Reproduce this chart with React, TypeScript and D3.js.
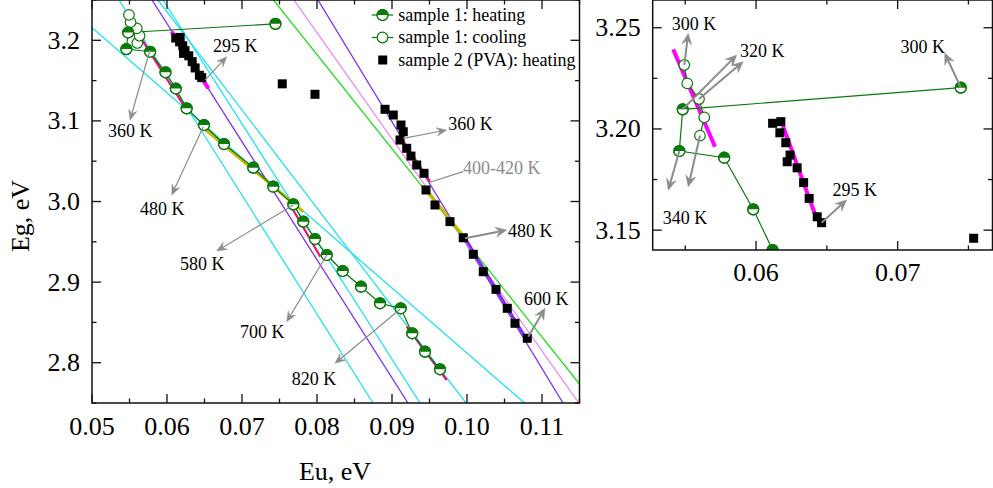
import React from 'react';
import * as d3 from 'd3';

const FONT = "'Liberation Serif','Times New Roman',serif";

// ---- data: sample 1 heating ----
const heatEu = [0.07446, 0.05482, 0.05458, 0.05775, 0.0598, 0.06117, 0.06262, 0.06493, 0.0676, 0.0715, 0.07417, 0.07684, 0.07817, 0.07973, 0.0813, 0.08343, 0.08587, 0.0884, 0.09116, 0.0927, 0.0944, 0.0964];
const heatEg = [3.2204, 3.2097, 3.1891, 3.1858, 3.1603, 3.1402, 3.1156, 3.0949, 3.0713, 3.042, 3.0184, 2.9965, 2.975, 2.9535, 2.9336, 2.9138, 2.8943, 2.8737, 2.8675, 2.8365, 2.8137, 2.7918];
// ---- sample 1 cooling ----
const coolEu = [0.05604, 0.05634, 0.05597, 0.05514, 0.05493];
const coolEg = [3.1967, 3.2057, 3.2148, 3.2225, 3.2316];
// ---- sample 2 (PVA) heating ----
const pvaEu = [0.06463, 0.06432, 0.06375, 0.06336, 0.0629, 0.0622, 0.0624, 0.0621, 0.06168, 0.06175, 0.06117, 0.07537, 0.07973, 0.08907, 0.09017, 0.0912, 0.0915, 0.09107, 0.09196, 0.09253, 0.0933, 0.09427, 0.09453, 0.09573, 0.09773, 0.0995, 0.10084, 0.10217, 0.10387, 0.10537, 0.1064, 0.10804];
const pvaEg = [3.1537, 3.1566, 3.1657, 3.1735, 3.1808, 3.1838, 3.1871, 3.1932, 3.1981, 3.2036, 3.2028, 3.146, 3.133, 3.1144, 3.1073, 3.0949, 3.0866, 3.0763, 3.066, 3.0564, 3.0453, 3.035, 3.0143, 2.9957, 2.975, 2.955, 2.9345, 2.9129, 2.891, 2.8675, 2.8489, 2.8303];

// ---- fit / model lines (Eu, Eg) ----
const cyanA = [[0.0450, 3.2560], [0.1120, 2.7150]];
const cyanB = [[0.0536, 3.25], [0.08747, 2.75]];
const cyanC = [[0.0588, 3.25], [0.09987, 2.75]];
const cyanD = [[0.05947, 3.25], [0.09373, 2.75]];
const violet1 = [[0.0580, 3.25], [0.09213, 2.75]];
const violet2 = [[0.08013, 3.25], [0.1128, 2.75]];
const pinkLine = [[0.07693, 3.25], [0.1149, 2.75]];
const greenLine = [[0.0742, 3.25], [0.115, 2.7736]];
const magentaMain = [[0.06062, 3.2107], [0.06551, 3.1404]];
const crimson1 = [[0.05444, 3.2335], [0.0629, 3.1094]];
const yellow1 = [[0.0644, 3.0949], [0.07817, 2.9873]];
const crimson2 = [[0.07644, 2.9957], [0.08044, 2.9315]];
const crimson3 = [[0.09195, 2.8447], [0.09729, 2.7785]];
const crimsonPva = [[0.09107, 3.0804], [0.09507, 3.0246]];
const yellowPva = [[0.0944, 3.0164], [0.09996, 2.952]];
const violetPva = [[0.09973, 2.9547], [0.1080, 2.828]];
const magentaInsetCool = [[0.05415, 3.2393], [0.0571, 3.1912]];
const magentaInsetPva = [[0.0619, 3.2015], [0.06427, 3.1558]];

// ---- ticks ----
const mainXMajor = [0.05, 0.06, 0.07, 0.08, 0.09, 0.10, 0.11];
const mainXLabels = ['0.05', '0.06', '0.07', '0.08', '0.09', '0.10', '0.11'];
const mainXMinor = [0.055, 0.065, 0.075, 0.085, 0.095, 0.105, 0.115];
const mainYMajor = [2.8, 2.9, 3.0, 3.1, 3.2];
const mainYLabels = ['2.8', '2.9', '3.0', '3.1', '3.2'];
const mainYMinor = [2.75, 2.85, 2.95, 3.05, 3.15, 3.25];
const insXMajor = [0.06, 0.07];
const insXLabels = ['0.06', '0.07'];
const insXMinor = [0.055, 0.065, 0.075];
const insYMajor = [3.15, 3.2, 3.25];
const insYLabels = ['3.15', '3.20', '3.25'];
const insYMinor = [3.175, 3.225];

// ---- annotations: [fromEu, fromEg, toEu, toEg, width] ----
const mainArrows = [
  [0.06507, 3.1507, 0.06796, 3.1797, 1.2],
  [0.05773, 3.188, 0.05507, 3.1011, 1.2],
  [0.06484, 3.0928, 0.06063, 3.0081, 1.2],
  [0.07684, 2.9957, 0.06663, 2.9386, 1.2],
  [0.0813, 2.9336, 0.07596, 2.8509, 1.2],
  [0.09107, 2.8663, 0.0824, 2.7992, 1.2],
  [0.09151, 3.0784, 0.09729, 3.0887, 1.2],
  [0.09973, 2.9543, 0.10529, 2.9646, 2],
  [0.10817, 2.8323, 0.1104, 2.8675, 2],
];
const mainLabels = [
  ['295 K', 0.06613, 3.1855],
  ['360 K', 0.05213, 3.08],
  ['480 K', 0.0564, 2.9833],
  ['580 K', 0.06173, 2.915],
  ['700 K', 0.06973, 2.8307],
  ['820 K', 0.07663, 2.7723],
  ['360 K', 0.0975, 3.0887],
  ['480 K', 0.10547, 2.956],
  ['600 K', 0.1076, 2.8716],
];
const rangeLine = [0.09484, 3.0233, 0.09947, 3.037];
const rangeLabel = ['400-420 K', 0.09947, 3.0341];
const insetArrows = [
  [0.05493, 3.2316, 0.05521, 3.2472, 2],
  [0.05482, 3.2097, 0.05863, 3.2365, 2],
  [0.05597, 3.2148, 0.05909, 3.2332, 2],
  [0.05458, 3.1891, 0.0538, 3.1698, 2],
  [0.05604, 3.1967, 0.05521, 3.1715, 2],
  [0.07446, 3.2204, 0.07333, 3.2374, 2],
  [0.06463, 3.1537, 0.06639, 3.1649, 2],
];
const insetLabels = [
  ['300 K', 0.05404, 3.2489],
  ['320 K', 0.05886, 3.2355],
  ['340 K', 0.05341, 3.153],
  ['300 K', 0.0702, 3.2375],
  ['295 K', 0.0654, 3.1669],
];

const legendItems = ['sample 1: heating', 'sample 1: cooling', 'sample 2 (PVA): heating'];

const GREEN = '#0a7a0a';
const CYAN = '#22e2f2';
const VIOLET = '#8030e8';
const CRIMSON = '#e8146a';
const YELLOW = '#c8b800';
const GRAY = '#8c8c8c';

function arrowPath(x1: number, y1: number, x2: number, y2: number, w: number) {
  const dx = x2 - x1, dy = y2 - y1;
  const len = Math.hypot(dx, dy);
  const ux = dx / len, uy = dy / len;
  const L = w > 1.5 ? 11 : 10, hw = w > 1.5 ? 5 : 4.2;
  const bx = x2 - ux * L, by = y2 - uy * L;
  const nx = x2 - ux * L * 0.65, ny = y2 - uy * L * 0.65;
  const px = -uy, py = ux;
  return {
    shaft: `M${x1},${y1}L${nx},${ny}`,
    head: `M${x2},${y2}L${bx + px * hw},${by + py * hw}L${nx},${ny}L${bx - px * hw},${by - py * hw}Z`,
  };
}

function HalfCircle({ cx, cy, r }: { cx: number; cy: number; r: number }) {
  return (
    <g>
      <circle cx={cx} cy={cy} r={r} fill="#fff" stroke={GREEN} strokeWidth={1.2} />
      <path d={`M${cx - r},${cy}A${r},${r} 0 0 1 ${cx + r},${cy}Z`} fill={GREEN} />
      <circle cx={cx} cy={cy} r={r} fill="none" stroke={GREEN} strokeWidth={1.2} />
    </g>
  );
}

type Sc = d3.ScaleLinear<number, number>;

function Frame({ x, y, L, R, T, B, xMaj, xLab, xMin, yMaj, yLab, yMin, xLabOff }: any) {
  const maj = 9, min = 4.5;
  return (
    <g fontFamily={FONT} fill="#000">
      <rect x={L} y={T} width={R - L} height={B - T} fill="none" stroke="#111" strokeWidth={1.5} />
      {xMaj.map((v: number, i: number) => (
        <g key={'xm' + i}>
          <line x1={x(v)} x2={x(v)} y1={B} y2={B - maj} stroke="#111" strokeWidth={1.3} />
          <line x1={x(v)} x2={x(v)} y1={T} y2={T + maj} stroke="#111" strokeWidth={1.3} />
          <text x={x(v)} y={B + xLabOff} textAnchor="middle" fontSize={26}>{xLab[i]}</text>
        </g>
      ))}
      {xMin.map((v: number, i: number) => (
        <g key={'xn' + i}>
          <line x1={x(v)} x2={x(v)} y1={B} y2={B - min} stroke="#111" strokeWidth={1.3} />
          <line x1={x(v)} x2={x(v)} y1={T} y2={T + min} stroke="#111" strokeWidth={1.3} />
        </g>
      ))}
      {yMaj.map((v: number, i: number) => (
        <g key={'ym' + i}>
          <line x1={L} x2={L + maj} y1={y(v)} y2={y(v)} stroke="#111" strokeWidth={1.3} />
          <line x1={R} x2={R - maj} y1={y(v)} y2={y(v)} stroke="#111" strokeWidth={1.3} />
          <text x={L - 12} y={y(v) + 8.5} textAnchor="end" fontSize={26}>{yLab[i]}</text>
        </g>
      ))}
      {yMin.map((v: number, i: number) => (
        <g key={'yn' + i}>
          <line x1={L} x2={L + min} y1={y(v)} y2={y(v)} stroke="#111" strokeWidth={1.3} />
          <line x1={R} x2={R - min} y1={y(v)} y2={y(v)} stroke="#111" strokeWidth={1.3} />
        </g>
      ))}
    </g>
  );
}

export default function App() {
  const W = 993, H = 488;
  // main plot
  const mL = 92, mR = 579.5, mT = 0, mB = 403;
  const xM = d3.scaleLinear().domain([0.05, 0.115]).range([mL, mR]);
  const yM = d3.scaleLinear().domain([2.75, 3.25]).range([mB, mT]);
  // inset
  const iL = 652.7, iR = 992.5, iT = 0, iB = 250;
  const xI = d3.scaleLinear().domain([0.0527, 0.0767]).range([iL, iR]);
  const yI = d3.scaleLinear().domain([3.1402, 3.2637]).range([iB, iT]);

  const lineM = (pts: number[][]) => d3.line<number[]>().x(d => xM(d[0])).y(d => yM(d[1]))(pts) || '';
  const lineI = (pts: number[][]) => d3.line<number[]>().x(d => xI(d[0])).y(d => yI(d[1]))(pts) || '';

  const heatPts = heatEu.map((v, i) => [v, heatEg[i]]);
  const coolPts = coolEu.map((v, i) => [v, coolEg[i]]);
  const pvaPts = pvaEu.map((v, i) => [v, pvaEg[i]]);

  const sq = 9;

  const renderMarkers = (x: Sc, y: Sc, pre: string) => (
    <g>
      <path d={d3.line<number[]>().x(d => x(d[0])).y(d => y(d[1]))(heatPts) || ''} fill="none" stroke={GREEN} strokeWidth={1.2} />
      <path d={d3.line<number[]>().x(d => x(d[0])).y(d => y(d[1]))(coolPts) || ''} fill="none" stroke={GREEN} strokeWidth={1.2} />
      {pvaPts.map((p, i) => (
        <rect key={pre + 's' + i} x={x(p[0]) - sq / 2} y={y(p[1]) - sq / 2} width={sq} height={sq} fill="#000" />
      ))}
      {coolPts.map((p, i) => (
        <circle key={pre + 'c' + i} cx={x(p[0])} cy={y(p[1])} r={5.3} fill="#fff" stroke={GREEN} strokeWidth={1.2} />
      ))}
      {heatPts.map((p, i) => (
        <HalfCircle key={pre + 'h' + i} cx={x(p[0])} cy={y(p[1])} r={5.5} />
      ))}
    </g>
  );

  const drawArrow = (a: number[], x: Sc, y: Sc, k: string) => {
    const p = arrowPath(x(a[0]), y(a[1]), x(a[2]), y(a[3]), a[4]);
    return (
      <g key={k}>
        <path d={p.shaft} stroke={GRAY} strokeWidth={a[4]} fill="none" />
        <path d={p.head} fill={GRAY} stroke={GRAY} strokeWidth={0.5} />
      </g>
    );
  };

  return (
    <svg width={W} height={H} style={{ position: 'absolute', left: 0, top: 0, background: '#fff' }}>
      <defs>
        <clipPath id="clipMain"><rect x={mL} y={mT} width={mR - mL} height={mB - mT} /></clipPath>
        <clipPath id="clipInset"><rect x={iL} y={iT} width={iR - iL} height={iB - iT} /></clipPath>
      </defs>
      <rect x={0} y={0} width={W} height={H} fill="#fff" />

      {/* ---------- main plot ---------- */}
      <g clipPath="url(#clipMain)">
        <path d={lineM(cyanA)} fill="none" stroke={CYAN} strokeWidth={1.3} />
        <path d={lineM(cyanB)} fill="none" stroke={CYAN} strokeWidth={1.3} />
        <path d={lineM(cyanC)} fill="none" stroke={CYAN} strokeWidth={1.3} />
        <path d={lineM(cyanD)} fill="none" stroke={CYAN} strokeWidth={1.3} />
        <path d={lineM(violet1)} fill="none" stroke={VIOLET} strokeWidth={1.3} />
        <path d={lineM(violet2)} fill="none" stroke={VIOLET} strokeWidth={1.3} />
        <path d={lineM(pinkLine)} fill="none" stroke="#f08ef0" strokeWidth={1.3} />
        <path d={lineM(greenLine)} fill="none" stroke="#22dd22" strokeWidth={1.3} />
        <path d={lineM(magentaMain)} fill="none" stroke="#ff00ff" strokeWidth={4} />
        <path d={lineM(crimson1)} fill="none" stroke={CRIMSON} strokeWidth={2.2} />
        <path d={lineM(yellow1)} fill="none" stroke={YELLOW} strokeWidth={3} />
        <path d={lineM(crimson2)} fill="none" stroke={CRIMSON} strokeWidth={2.2} />
        <path d={lineM(crimson3)} fill="none" stroke={CRIMSON} strokeWidth={2.2} />
        <path d={lineM(crimsonPva)} fill="none" stroke={CRIMSON} strokeWidth={2.2} />
        <path d={lineM(yellowPva)} fill="none" stroke={YELLOW} strokeWidth={3} />
        <path d={lineM(violetPva)} fill="none" stroke={VIOLET} strokeWidth={3} />
        {renderMarkers(xM, yM, 'm')}
        {mainArrows.map((a, i) => drawArrow(a as number[], xM, yM, 'ma' + i))}
        <line x1={xM(rangeLine[0])} y1={yM(rangeLine[1])} x2={xM(rangeLine[2])} y2={yM(rangeLine[3])} stroke={GRAY} strokeWidth={1.2} />
      </g>
      <g fontFamily={FONT} fontSize={18}>
        {mainLabels.map((l, i) => (
          <text key={'ml' + i} x={xM(l[1] as number)} y={yM(l[2] as number)} fill="#000">{l[0]}</text>
        ))}
        <text x={xM(rangeLabel[1] as number)} y={yM(rangeLabel[2] as number)} fill={GRAY}>{rangeLabel[0]}</text>
      </g>
      {/* legend */}
      <g fontFamily={FONT} fontSize={18}>
        {legendItems.map((t, i) => {
          const ly = 15 + i * 22.5;
          return (
            <g key={'lg' + i}>
              {i < 2 && <line x1={371.7} x2={393.3} y1={ly} y2={ly} stroke={GREEN} strokeWidth={1.2} />}
              {i === 0 && <HalfCircle cx={382.5} cy={ly} r={5.5} />}
              {i === 1 && <circle cx={382.5} cy={ly} r={5.3} fill="#fff" stroke={GREEN} strokeWidth={1.2} />}
              {i === 2 && <rect x={382.7 - sq / 2} y={ly - sq / 2} width={sq} height={sq} fill="#000" />}
              <text x={398.3} y={ly + 5.5} fill="#000">{t}</text>
            </g>
          );
        })}
      </g>
      <Frame x={xM} y={yM} L={mL} R={mR} T={mT} B={mB} xMaj={mainXMajor} xLab={mainXLabels} xMin={mainXMinor}
        yMaj={mainYMajor} yLab={mainYLabels} yMin={mainYMinor} xLabOff={32} />
      <text x={335} y={480} textAnchor="middle" fontFamily={FONT} fontSize={26}>Eu, eV</text>
      <text transform="translate(29,216) rotate(-90)" textAnchor="middle" fontFamily={FONT} fontSize={26}>Eg, eV</text>

      {/* ---------- inset ---------- */}
      <g clipPath="url(#clipInset)">
        <path d={lineI(magentaInsetCool)} fill="none" stroke="#ff00ff" strokeWidth={4} />
        <path d={lineI(magentaInsetPva)} fill="none" stroke="#ff00ff" strokeWidth={4} />
        {renderMarkers(xI, yI, 'i')}
        {insetArrows.map((a, i) => drawArrow(a as number[], xI, yI, 'ia' + i))}
      </g>
      <g fontFamily={FONT} fontSize={18}>
        {insetLabels.map((l, i) => (
          <text key={'il' + i} x={xI(l[1] as number)} y={yI(l[2] as number)} fill="#000">{l[0]}</text>
        ))}
      </g>
      <Frame x={xI} y={yI} L={iL} R={iR} T={iT} B={iB} xMaj={insXMajor} xLab={insXLabels} xMin={insXMinor}
        yMaj={insYMajor} yLab={insYLabels} yMin={insYMinor} xLabOff={31} />
    </svg>
  );
}
